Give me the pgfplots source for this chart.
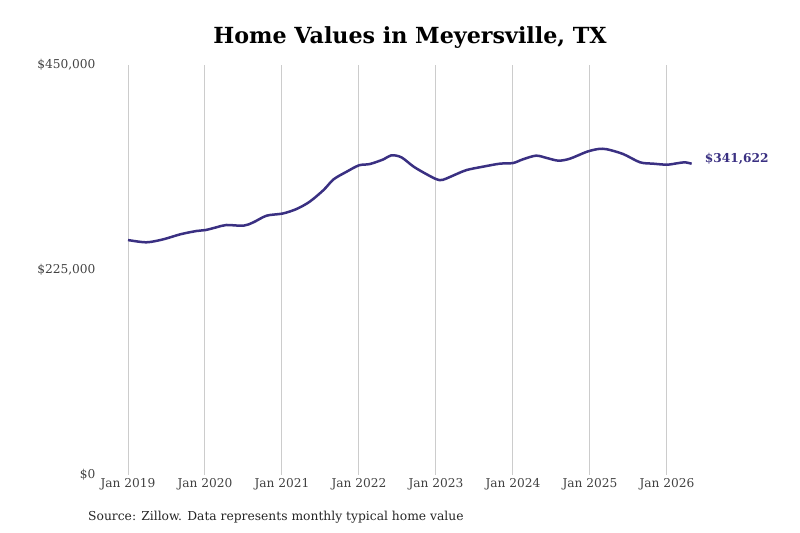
\documentclass[border=0pt]{standalone}
\usepackage{pgfplots}
\pgfplotsset{compat=1.18}
\usepackage{fontspec}
\setmainfont{DejaVu Serif}
\definecolor{linec}{RGB}{58,48,130}
\definecolor{gridc}{RGB}{204,204,204}
\definecolor{tickc}{RGB}{65,65,65}
\begin{document}
\begin{tikzpicture}
\path[use as bounding box] (0,0) rectangle (800bp,533bp);
\begin{axis}[
  at={(128bp,58bp)}, anchor=south west,
  scale only axis, width=577.5bp, height=410bp,
  xmin=2019, xmax=2026.5, ymin=0, ymax=450,
  axis line style={draw=none}, tick style={draw=none},
  xtick={2019,2020,2021,2022,2023,2024,2025,2026},
  xticklabels={Jan 2019,Jan 2020,Jan 2021,Jan 2022,Jan 2023,Jan 2024,Jan 2025,Jan 2026},
  ytick={0,225,450},
  yticklabels={{\$0},{\$225,000},{\$450,000}},
  xmajorgrids, major grid style={gridc, line width=1bp},
  ticklabel style={font=\fontsize{12.2bp}{14bp}\selectfont, text=tickc},
  yticklabel style={xshift=-29bp},
  clip=false,
]
\addplot[linec, line width=2.5bp, smooth, tension=0.5] coordinates {
(2019.00,257.9) (2019.24,255.4) (2019.46,258.7) (2019.68,264.2) (2019.89,267.8)
(2020.01,268.9) (2020.15,271.9) (2020.28,274.4) (2020.50,273.6) (2020.63,277.4)
(2020.80,284.6) (2021.01,287.0) (2021.19,292.0) (2021.36,300.0) (2021.54,312.8)
(2021.67,324.5) (2021.84,332.9) (2022.00,339.9) (2022.14,341.3) (2022.32,346.5)
(2022.42,350.9) (2022.55,348.7) (2022.71,338.4) (2022.88,330.0) (2023.01,324.5)
(2023.09,324.0) (2023.27,330.4) (2023.40,334.8) (2023.61,338.4) (2023.83,341.7)
(2024.00,342.4) (2024.13,346.5) (2024.30,350.5) (2024.44,347.9) (2024.59,345.0)
(2024.74,347.2) (2024.96,354.8) (2025.11,357.8) (2025.22,357.5) (2025.43,352.3)
(2025.65,343.2) (2025.82,341.7) (2026.00,340.6) (2026.13,342.1) (2026.23,343.2)
(2026.32,341.6)
};
\node[anchor=west, inner sep=0pt, xshift=13bp, yshift=4.5bp, text=linec, font=\fontsize{12.2bp}{14bp}\selectfont\bfseries] at (axis cs:2026.32,341.6) {\$341,622};
\end{axis}
\node[font=\fontsize{22.2bp}{26bp}\selectfont\bfseries] at (410bp,495bp) {Home Values in Meyersville, TX};
\node[anchor=west, inner sep=0pt, font=\fontsize{12.3bp}{14bp}\selectfont, text=black!85] at (88bp,16bp) {Source: Zillow. Data represents monthly typical home value};
\end{tikzpicture}
\end{document}
